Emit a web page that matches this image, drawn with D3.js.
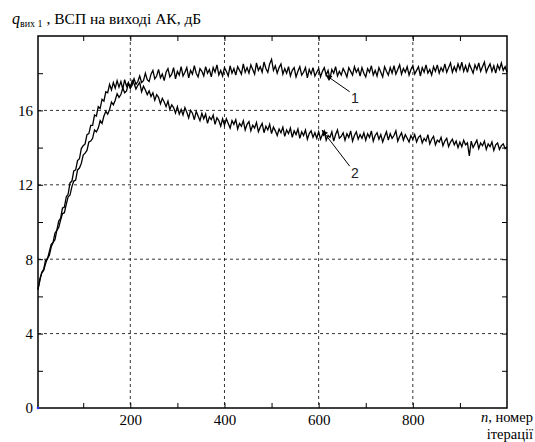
<!DOCTYPE html>
<html><head><meta charset="utf-8">
<script src="https://cdn.jsdelivr.net/npm/d3@7"></script>
<style>body{margin:0;background:#fff}svg{display:block}</style>
</head><body>
<svg id="c" width="535" height="442"></svg>
<script>
// sampled every 4 iterations, n = 4, 8, ..., 1000
const iterStep = 4;
// curve 1 (rises to ~18 dB and stays)
const curve1 = [
6.35,6.95,7.25,7.4,7.75,8.05,8.2,8.65,8.9,9.05,9.55,9.7,10.1,10.45,10.5,10.95,11.35,11.45,11.9,12.2,12.25,12.8,12.9,13.15,
13.6,13.7,13.85,14.3,14.35,14.5,14.95,14.85,15.05,15.45,15.3,15.7,15.95,15.8,16.05,16.45,16.3,16.55,16.9,16.7,16.85,17.2,16.95,17.05,17.45,
17.2,17.35,17.7,17.4,17.55,17.85,17.5,17.6,18.0,17.65,17.55,17.95,18.15,17.7,17.85,18.2,17.75,17.95,17.6,18.05,18.25,17.8,17.95,18.3,17.7,
18.1,17.9,18.35,17.85,18.05,18.3,17.75,18.15,17.95,18.4,18.0,17.8,18.25,18.1,17.85,18.35,18.0,18.2,17.8,18.3,18.05,18.45,17.9,18.15,17.85,
18.3,18.1,17.85,18.4,18.0,18.25,17.9,18.35,18.15,17.95,18.5,18.05,18.3,18.0,18.45,18.2,17.95,18.55,18.15,18.35,18.05,18.6,18.25,18.05,18.5,
18.75,18.15,18.4,18.0,18.3,18.5,17.95,18.25,18.0,18.35,17.85,18.15,18.3,17.8,18.1,18.35,17.9,18.05,18.3,17.75,18.2,17.95,18.3,17.85,18.05,
18.25,17.8,18.1,18.3,17.9,18.15,17.7,18.2,18.0,18.35,17.85,18.1,17.9,18.25,18.05,17.8,18.3,18.1,17.9,18.35,18.05,18.25,17.85,18.3,18.0,
17.8,18.25,18.05,18.4,17.9,18.15,17.85,18.3,18.05,17.8,18.35,18.1,17.9,18.3,18.0,18.4,17.95,18.2,18.45,17.95,18.25,18.05,18.35,17.9,18.2,
18.4,17.95,18.15,18.35,17.85,18.3,18.05,18.45,18.0,18.2,17.9,18.35,18.1,18.45,18.0,18.3,18.1,18.5,18.05,18.3,18.55,18.05,18.35,18.1,18.5,
18.2,18.6,18.1,18.4,18.05,18.5,18.25,18.0,18.45,18.2,18.55,18.1,18.35,18.6,18.05,18.3,18.5,18.1,18.4,18.0,18.45,18.2,18.55,18.15,18.35,
18.05
];
// curve 2 (peaks near 200 then decays to ~14 dB)
const curve2 = [
6.4,6.85,7.3,7.45,7.95,8.0,8.4,8.8,8.9,9.4,9.55,10.05,10.2,10.75,10.8,11.35,11.5,12.1,12.2,12.75,12.8,13.3,13.4,13.95,
14.1,14.2,14.7,14.75,15.2,15.2,15.75,15.7,16.2,16.1,16.6,16.5,17.0,16.95,17.4,17.1,17.5,17.2,17.6,17.25,17.55,17.15,17.65,17.3,17.5,
17.2,17.6,17.45,17.15,17.35,17.5,17.0,17.3,17.1,16.85,17.05,16.75,16.95,16.55,16.85,16.7,16.35,16.65,16.45,16.2,16.5,16.05,16.3,16.15,15.85,
16.2,15.8,16.05,15.75,16.15,15.9,15.6,16.0,15.85,15.5,15.95,15.7,15.45,15.85,15.55,15.8,15.3,15.65,15.5,15.75,15.25,15.6,15.45,15.15,15.55,
15.2,15.55,15.3,15.05,15.45,15.25,15.5,15.0,15.3,15.15,15.45,14.95,15.25,15.4,14.9,15.2,15.05,15.35,14.85,15.1,15.3,14.8,15.15,14.95,15.25,
14.75,15.1,14.9,14.65,15.0,14.8,15.1,14.6,14.95,14.75,15.05,14.55,14.9,14.7,15.0,14.5,14.85,14.65,14.95,14.45,14.75,14.9,14.55,14.8,14.5,
14.85,14.45,14.7,14.9,14.4,14.65,14.55,14.85,14.35,14.7,14.95,14.5,14.6,14.8,14.4,14.75,14.55,14.9,14.35,14.65,14.85,14.45,14.7,14.5,14.8,
14.4,14.75,14.55,14.9,14.35,14.65,14.8,14.45,14.7,14.3,14.6,14.85,14.4,14.75,14.5,14.65,14.9,14.35,14.6,14.8,14.4,14.7,14.5,14.3,14.65,
14.45,14.7,14.3,14.55,14.65,14.25,14.5,14.35,14.7,14.2,14.45,14.6,14.15,14.4,14.3,14.55,14.1,14.35,14.5,14.05,14.3,14.45,14.15,14.35,14.0,
14.3,14.05,14.4,14.15,14.25,13.55,14.35,14.0,14.2,14.4,13.95,14.25,14.1,14.35,13.9,14.2,14.05,14.3,13.85,14.15,14.25,13.9,14.1,14.2,13.95,
14.05
];
const xTicks = [200, 400, 600, 800];
const yTicks = [0, 4, 8, 12, 16];
const xMinor = [100, 200, 300, 400, 500, 600, 700, 800, 900];
const yMinor = [2, 4, 6, 8, 10, 12, 14, 16, 18];
const curveLabels = ["1", "2"];

const svg = d3.select("#c");
const L = 38, R = 507, T = 36, B = 408;
const x = d3.scaleLinear().domain([4, 1000]).range([L, R]);
const y = d3.scaleLinear().domain([0, 20]).range([B, T]);
const SERIF = "Liberation Serif";
const SANS = "Liberation Sans";

// grid
svg.append("g").selectAll("line").data(xTicks).join("line")
  .attr("x1", d => x(d)).attr("x2", d => x(d)).attr("y1", T).attr("y2", B)
  .attr("stroke", "#000").attr("stroke-width", 0.8).attr("stroke-dasharray", "3,3");
svg.append("g").selectAll("line").data(yTicks.filter(d => d > 0)).join("line")
  .attr("y1", d => y(d)).attr("y2", d => y(d)).attr("x1", L).attr("x2", R)
  .attr("stroke", "#000").attr("stroke-width", 0.8).attr("stroke-dasharray", "3,3");

// inward ticks on all sides via d3 axes
const tk = 5;
const axB = svg.append("g").attr("transform", `translate(0,${B})`)
  .call(d3.axisTop(x).tickValues(xMinor).tickSize(tk).tickFormat(""));
const axT = svg.append("g").attr("transform", `translate(0,${T})`)
  .call(d3.axisBottom(x).tickValues(xMinor).tickSize(tk).tickFormat(""));
const axL = svg.append("g").attr("transform", `translate(${L},0)`)
  .call(d3.axisRight(y).tickValues(yMinor).tickSize(tk).tickFormat(""));
const axR = svg.append("g").attr("transform", `translate(${R},0)`)
  .call(d3.axisLeft(y).tickValues(yMinor).tickSize(tk).tickFormat(""));
[axB, axT, axL, axR].forEach(a => { a.select(".domain").remove(); a.selectAll("line").attr("stroke", "#000"); });

// tick labels
const xl = svg.append("g").attr("transform", `translate(0,${B})`)
  .call(d3.axisBottom(x).tickValues(xTicks).tickSize(0).tickPadding(6));
xl.attr("font-family", SERIF).attr("font-size", 15);
xl.select(".domain").remove();
xl.selectAll("text").attr("fill", "#000");
const yl = svg.append("g").attr("transform", `translate(${L},0)`)
  .call(d3.axisLeft(y).tickValues(yTicks).tickSize(0).tickPadding(5));
yl.attr("font-family", SERIF).attr("font-size", 15);
yl.select(".domain").remove();
yl.selectAll("text").attr("fill", "#000");

// curves
const line = d3.line().x((d, i) => x((i + 1) * iterStep)).y(d => y(d));
[curve1, curve2].forEach(c => {
  svg.append("path").datum(c).attr("d", line).attr("fill", "none")
    .attr("stroke", "#000").attr("stroke-width", 1.3).attr("stroke-linejoin", "miter");
});

// frame
svg.append("rect").attr("x", L).attr("y", T).attr("width", R - L).attr("height", B - T)
  .attr("fill", "none").attr("stroke", "#000").attr("stroke-width", 1.5);
svg.append("circle").attr("cx", L).attr("cy", y(0)).attr("r", 1.3).attr("fill", "#2030ff");

// annotations
svg.append("defs").append("marker").attr("id", "ah").attr("viewBox", "0 0 10 10")
  .attr("refX", 10).attr("refY", 5).attr("markerWidth", 12).attr("markerHeight", 6)
  .attr("markerUnits", "userSpaceOnUse").attr("orient", "auto")
  .append("path").attr("d", "M0,0 L10,5 L0,10 Z").attr("fill", "#000");
const ann = [
  {tail: [666, 17.0], tip: [615, 17.9], lab: [677, 16.4]},
  {tail: [666, 13.0], tip: [607, 14.95], lab: [677, 12.35]}
];
ann.forEach((a, i) => {
  svg.append("line").attr("x1", x(a.tail[0])).attr("y1", y(a.tail[1]))
    .attr("x2", x(a.tip[0])).attr("y2", y(a.tip[1]))
    .attr("stroke", "#000").attr("stroke-width", 1).attr("marker-end", "url(#ah)");
  svg.append("text").attr("font-family", SANS).attr("font-size", 14)
    .attr("x", x(a.lab[0])).attr("y", y(a.lab[1]))
    .attr("text-anchor", "middle").attr("fill", "#222").text(curveLabels[i]);
});

// y-axis title
const yt = svg.append("text").attr("font-family", SERIF).attr("x", 12).attr("y", 24).attr("fill", "#000");
yt.append("tspan").attr("font-style", "italic").attr("font-size", 16).text("q");
yt.append("tspan").attr("font-size", 10).attr("dy", 3).text("вих 1");
yt.append("tspan").attr("font-size", 15.5).attr("dy", -3).text(" , ВСП на виході АК, дБ");

// x-axis title
const xt = svg.append("text").attr("font-family", SERIF).attr("font-size", 14.5)
  .attr("x", 533).attr("y", 422).attr("text-anchor", "end").attr("fill", "#000");
xt.append("tspan").attr("font-style", "italic").text("n");
xt.append("tspan").text(", номер");
svg.append("text").attr("font-family", SERIF).attr("font-size", 14.5)
  .attr("x", 533).attr("y", 439).attr("text-anchor", "end").attr("fill", "#000").text("ітерації");
</script>
</body></html>
